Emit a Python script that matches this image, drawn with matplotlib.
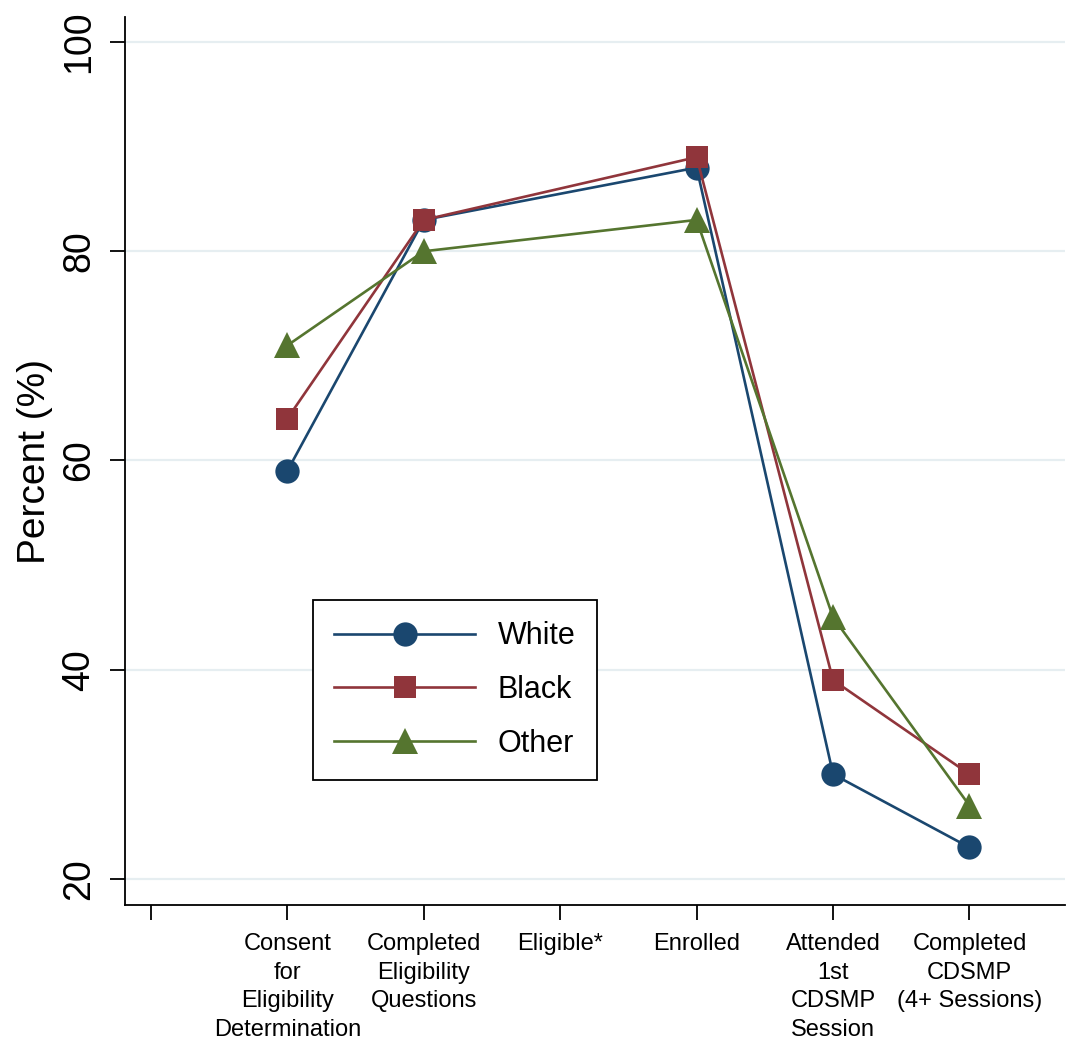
import numpy as np
import matplotlib
matplotlib.use("Agg")
import matplotlib.pyplot as plt

# stages along the recruitment funnel
stages = ["Consent\nfor\nEligibility\nDetermination",
          "Completed\nEligibility\nQuestions",
          "Eligible*",
          "Enrolled",
          "Attended\n1st\nCDSMP\nSession",
          "Completed\nCDSMP\n(4+ Sessions)"]

# percent by race (no values shown for Eligible*)
white = [59, 83, np.nan, 88, 30, 23]
black = [64, 83, np.nan, 89, 39, 30]
other = [71, 80, np.nan, 83, 45, 27]

y_ticks = [20, 40, 60, 80, 100]

plt.rcParams['font.family'] = ['Liberation Sans', 'DejaVu Sans']

fig = plt.figure(figsize=(10.73, 10.47), dpi=100)
ax = fig.add_axes([125/1073, 1 - 905/1047, 940/1073, 888/1047])

pos = np.arange(1, len(stages) + 1)

series = [
    ("White", white, "#1a476f", "o", 17.5),
    ("Black", black, "#90353b", "s", 16.5),
    ("Other", other, "#55752f", "^", 18.5),
]
for label, vals, col, mk, ms in series:
    v = np.array(vals, dtype=float)
    ok = ~np.isnan(v)
    ax.plot(pos[ok], v[ok], color=col, marker=mk, markersize=ms,
            linewidth=1.9, label=label, markeredgewidth=0)

ax.set_xlim(-0.19, 6.70)
ax.set_ylim(17.5, 102.4)

ax.set_xticks(np.concatenate([[0], pos]))
ax.set_xticklabels([""] + stages, fontsize=17, linespacing=1.4)
ax.set_yticks(y_ticks)
ax.set_yticklabels([str(t) for t in y_ticks], fontsize=27, rotation=90,
                   va="center")
ax.tick_params(axis="x", length=11, width=1.3, pad=9)
ax.tick_params(axis="y", length=11, width=1.3, pad=9)

ax.set_ylabel("Percent (%)", fontsize=28, labelpad=6)

ax.grid(axis="y", color="#e6eef1", linewidth=1.6)
ax.set_axisbelow(True)
for side in ["top", "right"]:
    ax.spines[side].set_visible(False)
for side in ["left", "bottom"]:
    ax.spines[side].set_linewidth(1.3)

leg = ax.legend(loc="upper left", bbox_to_anchor=(0.2, 0.3435),
                borderaxespad=0, fontsize=22, fancybox=False,
                framealpha=1, edgecolor="black", handlelength=4.6,
                handletextpad=0.75, labelspacing=0.78, borderpad=0.7)
leg.get_frame().set_linewidth(1.3)

fig.savefig("out.png", dpi=100)
